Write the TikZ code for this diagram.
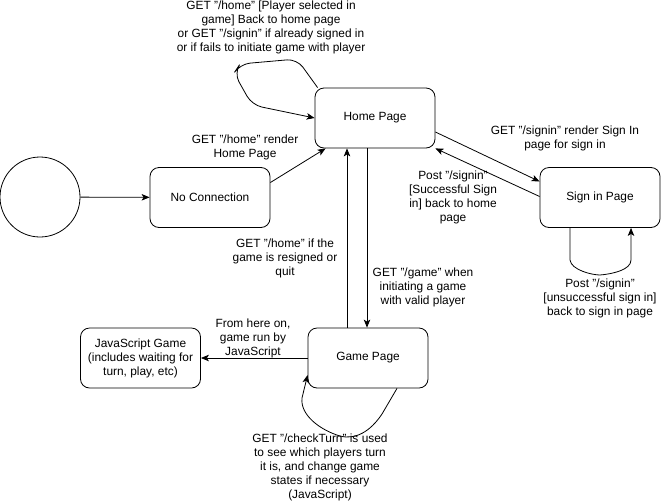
\documentclass[tikz,border=0pt]{standalone}
\usepackage{fontspec}
\setmainfont{Liberation Sans}
\usetikzlibrary{arrows.meta}
\tikzset{
  box/.style={draw, rounded corners=9pt, minimum width=120pt, minimum height=60pt, align=center, inner sep=2pt, line width=0.8pt},
  lbl/.style={align=center, inner sep=0pt},
  arr/.style={-{Stealth[length=8pt,width=6.5pt,inset=2pt]}, line width=0.8pt},
  every node/.style={font=\fontsize{11.9pt}{14pt}\selectfont}
}
\begin{document}
\begin{tikzpicture}[x=1pt,y=-1pt]
\useasboundingbox (0,0) rectangle (671,501);
% nodes
\node[draw, circle, minimum size=80pt, inner sep=0pt, line width=0.8pt] (start) at (40,197) {};
\node[box] (noconn) at (210,197.5) {No Connection};
\node[box] (home) at (375,118) {Home Page};
\node[box] (signin) at (600,197.5) {Sign in Page};
\node[box] (game) at (368,358) {Game Page};
\node[box] (js) at (140.5,358) {JavaScript Game\\(includes waiting for\\turn, play, etc)};
% labels
\node[lbl] (l1) at (271,27) {GET "/home" [Player selected in\\game] Back to home page\\or GET "/signin" if already signed in\\or if fails to initiate game with player};
\node[lbl] (l2) at (245,147.5) {GET "/home" render\\Home Page};
\node[lbl] (l3) at (565,138) {GET "/signin" render Sign In\\page for sign in};
\node[lbl] (l4) at (453,197) {Post "/signin"\\{}[Successful Sign\\in] back to home\\page};
\node[lbl] (l5) at (600,298) {Post "/signin"\\{}[unsuccessful sign in]\\back to sign in page};
\node[lbl] (l6) at (285,258) {GET "/home" if the\\game is resigned or\\quit};
\node[lbl] (l7) at (423,287.5) {GET "/game" when\\initiating a game\\with valid player};
\node[lbl] (l8) at (253,338) {From here on,\\game run by\\JavaScript};
\node[lbl] (l9) at (320,467) {GET "/checkTurn" is used\\to see which players turn\\it is, and change game\\states if necessary\\(JavaScript)};
% connectors
\draw[arr] (start) -- (noconn);
\draw[arr] ([yshift=15pt]noconn.east) -- ([xshift=11pt]home.south west);
\draw[arr, rounded corners=10pt] ([xshift=3pt]home.north west) -- (297,59) -- (240,64) -- (234,73) -- (252,105) -- (home.west);
\draw[arr] ([yshift=-14pt]home.east) -- ([yshift=16pt]signin.west);
\draw[arr] ([yshift=1pt]signin.west) -- (home.south east);
\draw[arr] ([xshift=-30pt]signin.south) -- ++(0,32) .. controls ++(1,10) and (592,275) .. (600,275) .. controls (612,274) and (631,270) .. (631,260) -- ([xshift=31pt]signin.south);
\draw[arr] ([xshift=-8pt]home.south) -- ([xshift=-8pt]home.south |- game.north);
\draw[arr] ([xshift=-21pt]game.north) -- ([xshift=-21pt]game.north |- home.south);
\draw[arr] (game.west) -- (js.east);
\draw[arr] ([xshift=29pt]game.south) -- (382,414) .. controls (370,432) and (355,440) .. (340,436) .. controls (320,430) and (300,415) .. (302,398) -- ([yshift=-17pt]game.west);
\end{tikzpicture}
\end{document}
